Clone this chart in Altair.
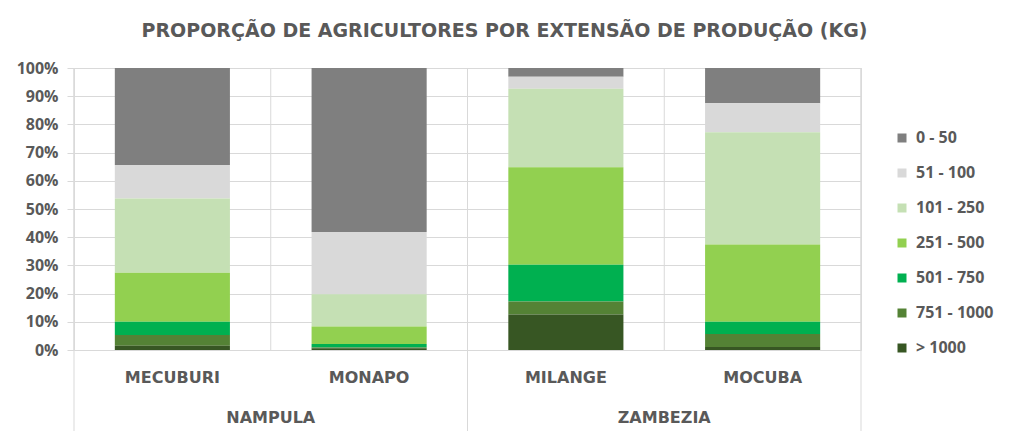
import altair as alt
import pandas as pd

# ---- data ----
municipios = ["MECUBURI", "MONAPO", "MILANGE", "MOCUBA"]
provincias = ["NAMPULA", "NAMPULA", "ZAMBEZIA", "ZAMBEZIA"]
classes = ["0 - 50", "51 - 100", "101 - 250", "251 - 500", "501 - 750", "751 - 1000", "> 1000"]
cores = ["#7f7f7f", "#d9d9d9", "#c5e0b4", "#92d050", "#00b050", "#548235", "#375623"]

mecuburi = [34.4, 11.9, 26.3, 17.4, 4.7, 3.8, 1.5]
monapo = [58.2, 22.0, 11.5, 6.2, 1.2, 0.3, 0.6]
milange = [3.1, 4.3, 27.8, 34.6, 13.0, 4.6, 12.6]
mocuba = [12.5, 10.3, 39.8, 27.4, 4.3, 4.6, 1.1]
valores = [mecuburi, monapo, milange, mocuba]

titulo = "PROPORÇÃO DE AGRICULTORES POR EXTENSÃO DE PRODUÇÃO (KG)"

# ---- tables ----
rows = []
for m, vals in zip(municipios, valores):
    for i, (c, v) in enumerate(zip(classes, vals)):
        rows.append({"municipio": m, "classe": c, "valor": v, "ordem": len(classes) - 1 - i})
df = pd.DataFrame(rows)

# category boundaries (index based) and province groups
n = len(municipios)
bounds = pd.DataFrame({"pos": list(range(n + 1))})
grp_edges = [0]
for i in range(1, n):
    if provincias[i] != provincias[i - 1]:
        grp_edges.append(i)
grp_edges.append(n)
long_bounds = pd.DataFrame({"pos": grp_edges})
grp = pd.DataFrame({
    "provincia": [provincias[grp_edges[k]] for k in range(len(grp_edges) - 1)],
    "centro": [(grp_edges[k] + grp_edges[k + 1]) / 2 for k in range(len(grp_edges) - 1)],
})

W, H = 787, 282
GRID = "#d9d9d9"
TXT = "#595959"
xq = alt.Scale(domain=[0, n], nice=False, zero=False)

short_rules = alt.Chart(bounds).mark_rule(color=GRID, strokeWidth=1).encode(
    x=alt.X("pos:Q", scale=xq, axis=None),
    y=alt.value(0),
    y2=alt.value(H),
)
long_rules = alt.Chart(long_bounds).mark_rule(color=GRID, strokeWidth=1).encode(
    x=alt.X("pos:Q", scale=xq, axis=None),
    y=alt.value(0),
    y2=alt.value(H + 81),
)

bars = alt.Chart(df).mark_bar().encode(
    x=alt.X(
        "municipio:N",
        sort=municipios,
        scale=alt.Scale(paddingInner=0.415, paddingOuter=0.2075),
        axis=alt.Axis(
            title=None, labelAngle=0, ticks=False, domain=False,
            labelFont="DejaVu Sans", labelFontSize=16, labelFontWeight="bold",
            labelColor=TXT, labelPadding=19,
        ),
    ),
    y=alt.Y(
        "valor:Q",
        stack="normalize",
        scale=alt.Scale(domain=[0, 1]),
        axis=alt.Axis(
            title=None, format=".0%", values=[i / 10 for i in range(11)],
            domain=False, grid=True, gridColor=GRID, tickColor=GRID, tickSize=7,
            labelFont="Open Sans", labelFontSize=16, labelFontWeight="bold",
            labelColor=TXT, labelPadding=9,
        ),
    ),
    color=alt.Color(
        "classe:N",
        scale=alt.Scale(domain=classes, range=cores),
        legend=alt.Legend(
            title=None, orient="none", legendX=820, legendY=62, direction="vertical",
            symbolType="square", symbolSize=81, symbolStrokeWidth=0,
            labelFont="Open Sans", labelFontSize=16, labelFontWeight="bold",
            labelColor=TXT, labelOffset=6, rowPadding=19, padding=0,
        ),
    ),
    order=alt.Order("ordem:Q", sort="ascending"),
)

grp_labels = alt.Chart(grp).mark_text(
    font="DejaVu Sans", fontSize=16, fontWeight="bold", color=TXT, baseline="middle"
).encode(
    x=alt.X("centro:Q", scale=xq, axis=None),
    y=alt.value(H + 67.5),
    text="provincia:N",
)

chart = alt.layer(short_rules, long_rules, bars, grp_labels).resolve_scale(
    x="independent"
).properties(
    width=W,
    height=H,
    title=alt.Title(
        titulo, font="DejaVu Sans", fontSize=19, fontWeight="bold", color=TXT,
        anchor="middle", frame="group", dx=37, offset=19,
    ),
    padding={"left": 66, "top": 60, "right": 142, "bottom": 85},
    autosize=alt.AutoSizeParams(type="none"),
).configure_view(stroke=None).configure(background="white")

chart.save("out.html", embed_options={"renderer": "svg", "actions": False})
